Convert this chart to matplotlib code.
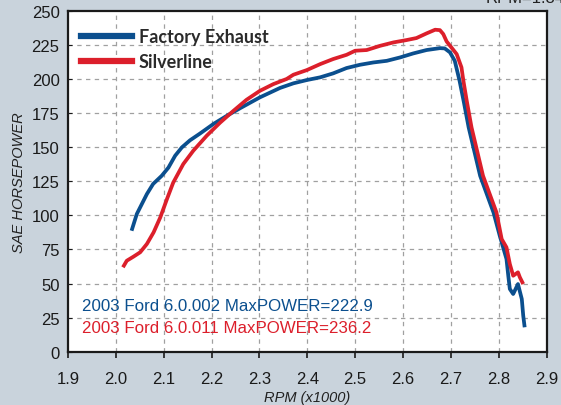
import matplotlib
matplotlib.use("Agg")
import matplotlib.pyplot as plt
from matplotlib.lines import Line2D

# ---- data ----
factory_rpm = [2.033, 2.044, 2.065, 2.078, 2.096, 2.110, 2.124, 2.138, 2.155, 2.176,
               2.204, 2.232, 2.260, 2.301, 2.343, 2.371, 2.399, 2.427, 2.454, 2.482,
               2.510, 2.538, 2.566, 2.594, 2.621, 2.649, 2.677, 2.687, 2.698, 2.708,
               2.718, 2.727, 2.737, 2.761, 2.789, 2.802, 2.809, 2.816, 2.820, 2.823,
               2.830, 2.840, 2.848, 2.851, 2.854]
factory_hp = [88.7, 101, 115.6, 123, 129, 135, 143.7, 149.8, 155, 160,
              167, 173, 178.6, 186.5, 193.4, 196.8, 199.2, 201.2, 204.1, 208,
              210.4, 212.1, 213.3, 215.8, 218.7, 221.2, 222.6, 222.4, 219.5, 213.3,
              198.7, 183, 164.5, 129, 102, 85, 76.5, 68, 55, 46,
              42.3, 49.6, 38.6, 26.4, 17.9]

silver_rpm = [2.015, 2.023, 2.037, 2.051, 2.065, 2.079, 2.093, 2.107, 2.120, 2.141,
              2.162, 2.190, 2.218, 2.246, 2.273, 2.301, 2.329, 2.357, 2.371, 2.399,
              2.427, 2.454, 2.482, 2.500, 2.524, 2.552, 2.580, 2.607, 2.628, 2.649,
              2.667, 2.677, 2.684, 2.691, 2.701, 2.712, 2.722, 2.726, 2.733, 2.743,
              2.767, 2.795, 2.806, 2.816, 2.823, 2.830, 2.840, 2.844, 2.851]
silver_hp = [61.9, 66.7, 69.7, 72.9, 79, 87.5, 98.5, 112, 124, 137.6,
             147.4, 158.4, 168, 176.7, 184.7, 191.3, 196.2, 200, 203.1, 206.5,
             210.9, 214.6, 217.7, 220.7, 221.2, 224.3, 226.8, 228.5, 230, 233.4,
             236.1, 235.8, 232.9, 227.5, 223.1, 218.2, 208.5, 198.7, 184, 164.5,
             129, 102.2, 82.6, 76.5, 64.3, 55.7, 58.2, 54.5, 49.6]

series_names = ["Factory Exhaust", "Silverline"]
notes = ["2003 Ford 6.0.002 MaxPOWER=222.9", "2003 Ford 6.0.011 MaxPOWER=236.2"]
x_ticks = [1.9, 2.0, 2.1, 2.2, 2.3, 2.4, 2.5, 2.6, 2.7, 2.8, 2.9]
y_ticks = [0, 25, 50, 75, 100, 125, 150, 175, 200, 225, 250]

BLUE = "#0b4f8e"
RED = "#dc1f2b"
BG = "#c9d3dc"

plt.rcParams['font.family'] = ['Liberation Sans', 'DejaVu Sans']

fig = plt.figure(figsize=(5.61, 4.06), dpi=100, facecolor=BG)
ax = fig.add_axes([0.121, 0.1313, 0.9745 - 0.121, 0.971 - 0.1313])
ax.set_facecolor("white")

ax.plot(factory_rpm, factory_hp, color=BLUE, lw=2.7, solid_joinstyle='round',
        solid_capstyle='butt', zorder=3)
ax.plot(silver_rpm, silver_hp, color=RED, lw=2.7, solid_joinstyle='round',
        solid_capstyle='butt', zorder=4)

ax.set_xlim(1.9, 2.9)
ax.set_ylim(0, 250)
ax.set_xticks(x_ticks)
ax.set_xticklabels([f"{v:.1f}" for v in x_ticks])
ax.set_yticks(y_ticks)
ax.set_yticklabels([str(v) for v in y_ticks])

for v in x_ticks[1:-1]:
    ax.axvline(v, color="#a0a0a0", lw=0.9, ls=(0, (3.5, 3.5)), zorder=1)
for v in y_ticks[1:-1]:
    ax.axhline(v, color="#a0a0a0", lw=0.9, ls=(0, (3.5, 3.5)), zorder=1)

for s in ax.spines.values():
    s.set_linewidth(1.6)
    s.set_color("#1a1a1a")
    s.set_zorder(6)

ax.tick_params(axis='x', direction='out', length=4, width=1.2, pad=10,
               labelsize=12, colors="#1a1a1a")
ax.tick_params(axis='y', direction='in', length=3, width=0.8, pad=6,
               labelsize=12, colors="#1a1a1a")

ax.set_xlabel("RPM (x1000)", fontsize=10.5, style='italic', color="#222222", labelpad=3)
ax.set_ylabel("SAE HORSEPOWER", fontsize=10.5, style='italic', color="#222222", labelpad=4)

handles = [Line2D([], [], color=BLUE, lw=4.5), Line2D([], [], color=RED, lw=4.5)]
leg = ax.legend(handles, series_names, loc='upper left', frameon=False,
                prop={'family': 'Lato', 'weight': 'bold', 'size': 13},
                handlelength=2.85, handletextpad=0.35, labelspacing=0.45,
                borderaxespad=0.0, bbox_to_anchor=(0.012, 0.97))
for t in leg.get_texts():
    t.set_color("#2a2a2a")

ax.text(1.93, 34, notes[0], color=BLUE, fontsize=12.2, va='center', ha='left', zorder=5)
ax.text(1.93, 17.5, notes[1], color=RED, fontsize=12.2, va='center', ha='left', zorder=5)

fig.text(0.865, 0.985, "RPM=1.84", fontsize=12, color="#222222", ha='left', va='bottom')

fig.savefig("out.png", dpi=100, facecolor=BG)
